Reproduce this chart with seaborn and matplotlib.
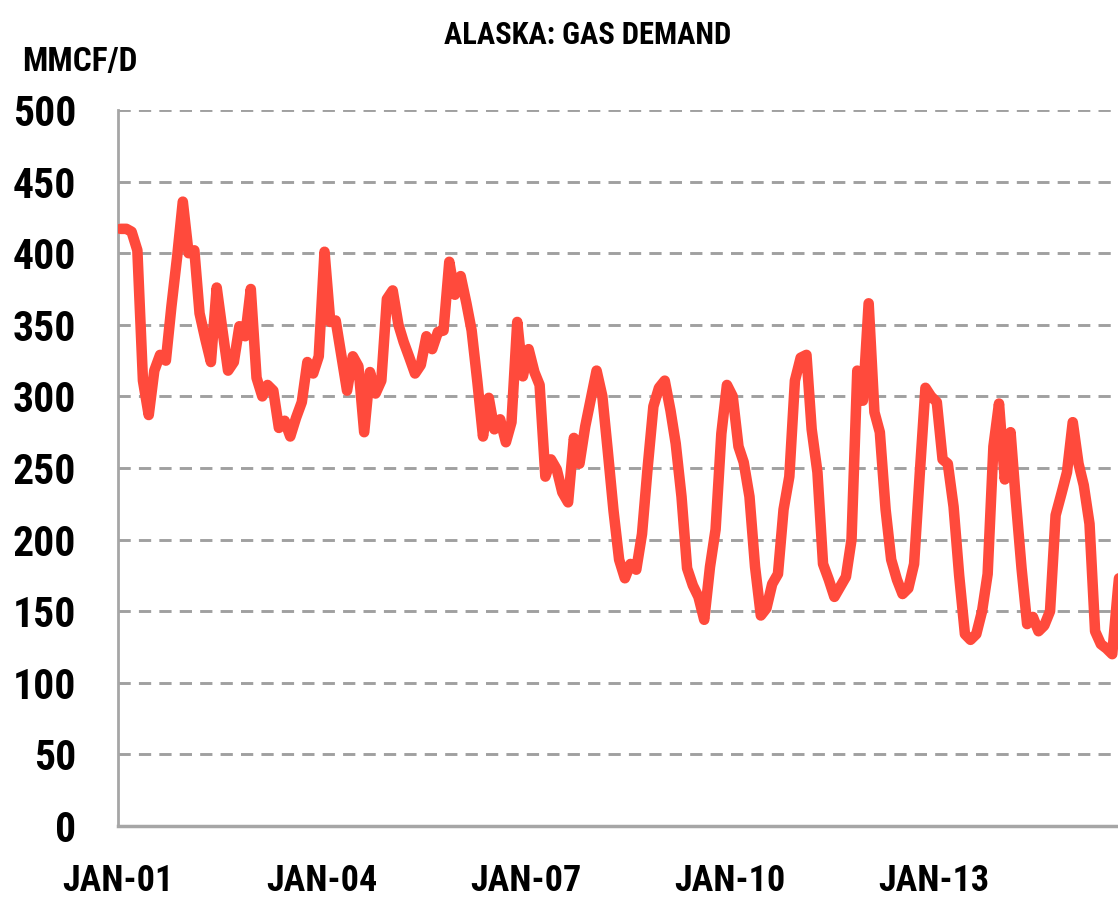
import numpy as np
import pandas as pd
import matplotlib
matplotlib.use("Agg")
import matplotlib.pyplot as plt
import matplotlib.dates as mdates
from matplotlib import font_manager
import seaborn as sns

# ---------------- data ----------------
start_month = "2001-01-01"
demand = [
    417, 417, 415, 402, 311, 287, 318, 329, 325, 363, 398, 436,   # 2001
    400, 402, 358, 340, 324, 376, 347, 318, 324, 349, 342, 375,   # 2002
    313, 300, 308, 304, 278, 283, 272, 285, 296, 324, 316, 328,   # 2003
    401, 352, 353, 328, 304, 328, 321, 275, 317, 302, 311, 368,   # 2004
    374, 350, 338, 327, 316, 322, 342, 333, 345, 346, 394, 371,   # 2005
    384, 365, 346, 310, 272, 299, 277, 284, 268, 282, 352, 314,   # 2006
    333, 317, 308, 244, 256, 249, 233, 226, 271, 253, 279, 298,   # 2007
    318, 300, 262, 220, 186, 173, 183, 179, 204, 250, 293, 306,   # 2008
    311, 290, 267, 230, 180, 168, 160, 144, 181, 207, 274, 308,   # 2009
    300, 265, 254, 230, 181, 147, 152, 169, 176, 221, 244, 311,   # 2010
    327, 329, 277, 247, 183, 172, 160, 167, 174, 200, 318, 297,   # 2011
    365, 289, 275, 221, 186, 172, 162, 166, 183, 245, 306, 300,   # 2012
    296, 256, 253, 223, 175, 134, 130, 134, 150, 176, 265, 295,   # 2013
    242, 275, 228, 180, 141, 146, 136, 140, 150, 217, 232, 247,   # 2014
    282, 253, 238, 211, 136, 127, 124, 120, 166, 205,             # 2015
]
tick_years = [2001, 2004, 2007, 2010, 2013]
tick_labels = ["JAN-01", "JAN-04", "JAN-07", "JAN-10", "JAN-13"]
y_ticks = [0, 50, 100, 150, 200, 250, 300, 350, 400, 450, 500]
title = "ALASKA: GAS DEMAND"
unit_label = "MMCF/D"

# each monthly value is drawn at the middle of its month (category-style axis)
df = pd.DataFrame({
    "month": pd.date_range(start_month, periods=len(demand), freq="MS") + pd.Timedelta(days=14),
    "demand": demand,
})

# ---------------- style ----------------
sns.set_style("white")
names = {f.name for f in font_manager.fontManager.ttflist}
family = "DejaVu Sans"
stretch = "normal"
for cand in ["Roboto Condensed", "Liberation Sans Narrow", "Open Sans Condensed",
             "DejaVu Sans Condensed"]:
    if cand in names:
        family = cand
        break
else:
    if any(f.name == "DejaVu Sans" and f.stretch == "condensed"
           for f in font_manager.fontManager.ttflist):
        stretch = "condensed"
plt.rcParams["font.family"] = [family, "DejaVu Sans"]

LINE = "#FF4A3C"
GRID = "#A0A0A0"
AXIS = "#A6A6A6"

fig = plt.figure(figsize=(11.18, 9.02), dpi=100)
ax = fig.add_axes([118 / 1118, 76 / 902, 1000 / 1118, 716 / 902])

sns.lineplot(data=df, x="month", y="demand", ax=ax, color=LINE,
             linewidth=7.6, solid_capstyle="round", solid_joinstyle="round",
             zorder=3)

ax.set_ylim(0, 500)
ax.set_xlim(pd.Timestamp("2001-01-01"), pd.Timestamp("2015-09-15"))
ax.set_yticks(y_ticks)
ax.set_yticklabels([str(v) for v in y_ticks], fontsize=30, fontweight="bold",
                   fontstretch=stretch)
ax.set_xticks([mdates.date2num(pd.Timestamp(f"{y}-01-01")) for y in tick_years])
ax.set_xticklabels(tick_labels, fontsize=26, fontweight="bold", fontstretch=stretch)

ax.yaxis.grid(True, linestyle=(0, (4.2, 2.8)), color=GRID, linewidth=2.1)
ax.xaxis.grid(False)
ax.set_axisbelow(True)

for s in ["top", "right"]:
    ax.spines[s].set_visible(False)
ax.spines["left"].set_color(AXIS)
ax.spines["left"].set_linewidth(2)
ax.spines["bottom"].set_color(AXIS)
ax.spines["bottom"].set_linewidth(2.5)
ax.spines["bottom"].set_zorder(4)

ax.tick_params(axis="x", direction="out", length=9.5, width=1.5, color=AXIS,
               pad=17, labelcolor="black")
ax.tick_params(axis="y", direction="out", length=8, width=1.5, color=AXIS,
               pad=22, labelcolor="black")
ax.set_xlabel("")
ax.set_ylabel("")

fig.text(588 / 1118, 1 - 35 / 902, title, ha="center", va="center",
         fontsize=22, fontweight="bold", fontstretch=stretch, color="black")
fig.text(22 / 1118, 1 - 62 / 902, unit_label, ha="left", va="center",
         fontsize=24, fontweight="bold", fontstretch=stretch, color="black")

fig.savefig("out.png", dpi=100)
